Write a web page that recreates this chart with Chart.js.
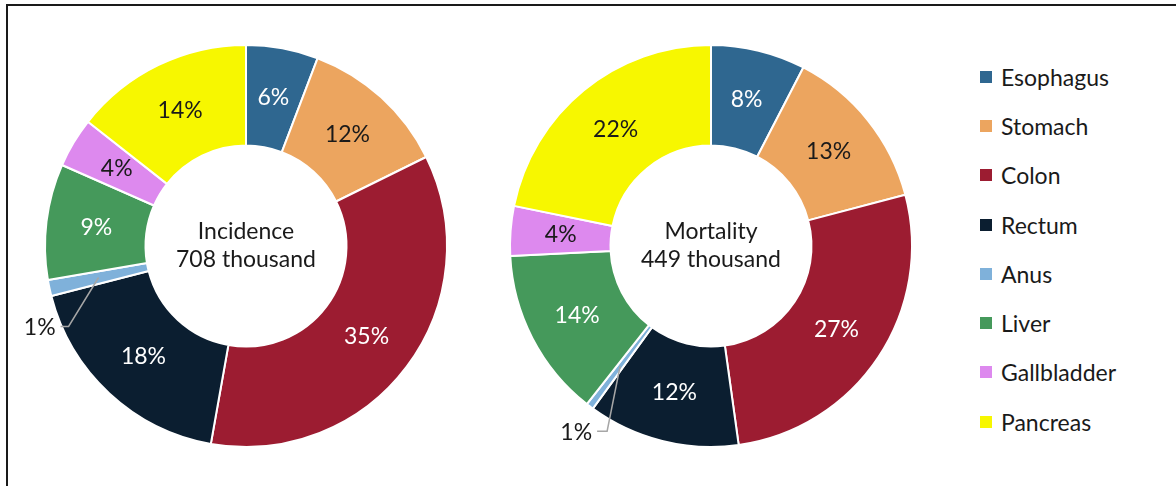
<!DOCTYPE html>
<html>
<head>
<meta charset="utf-8">
<script src="https://cdn.jsdelivr.net/npm/chart.js@4.4.1/dist/chart.umd.min.js"></script>
<style>
    body { margin: 0; width: 1176px; height: 486px; overflow: hidden; background: #fff; font-family: Lato, sans-serif; }
    #frame { position: absolute; left: 6px; top: 4px; width: 1300px; height: 600px; border-top: 2px solid #1a1a1a; border-left: 2px solid #1a1a1a; }
    .pie { position: absolute; top: 6px; width: 480px; height: 480px; }
    #legend { position: absolute; left: 980px; top: 52px; }
    .item { height: 49.3px; display: flex; align-items: center; font-size: 23px; color: #1a1a1a; }
    .swatch { width: 12px; height: 12px; margin-right: 9px; }
</style>
</head>
<body>
<div id="frame"></div>
<div class="pie" style="left:6px"><canvas id="incidenceChart"></canvas></div>
<div class="pie" style="left:471px"><canvas id="mortalityChart"></canvas></div>
<div id="legend"></div>
<script>
// Data (percent of total)
const sites = ['Esophagus', 'Stomach', 'Colon', 'Rectum', 'Anus', 'Liver', 'Gallbladder', 'Pancreas'];
const incidence = [5.8, 11.9, 35.1, 18.2, 1.3, 9.3, 4.0, 14.4];
const mortality = [7.6, 13.3, 26.9, 12.2, 0.6, 13.6, 4.0, 21.8];
const incidenceTitle = ['Incidence', '708 thousand'];
const mortalityTitle = ['Mortality', '449 thousand'];

const colors = ['#2F6790', '#ECA55F', '#9C1C31', '#0B1E30', '#7FB1DA', '#45995B', '#DD89EE', '#F7F700'];
const labelColors = ['#FFFFFF', '#1a1a1a', '#FFFFFF', '#FFFFFF', '#1a1a1a', '#FFFFFF', '#1a1a1a', '#1a1a1a'];

Chart.defaults.font.family = 'Lato';

// Percentage labels, the leader line for the tiny slice, and the centre title
const sliceLabels = {
    id: 'sliceLabels',
    afterDatasetsDraw(chart, args, opts) {
        const ctx = chart.ctx;
        const meta = chart.getDatasetMeta(0);
        const values = chart.data.datasets[0].data;
        const total = values.reduce((a, b) => a + b, 0);
        ctx.save();
        ctx.font = '23px Lato';
        ctx.textBaseline = 'middle';
        meta.data.forEach((arc, i) => {
            const pct = Math.round(values[i] / total * 100) + '%';
            const p = arc.tooltipPosition();
            if (i === opts.outside) {
                const ex = p.x + opts.elbow[0];
                const ey = p.y + opts.elbow[1];
                ctx.strokeStyle = '#A6A6A6';
                ctx.lineWidth = 1.5;
                ctx.beginPath();
                ctx.moveTo(p.x, p.y);
                ctx.lineTo(ex, ey);
                ctx.lineTo(ex - opts.tail, ey);
                ctx.stroke();
                ctx.fillStyle = '#1a1a1a';
                ctx.textAlign = 'right';
                ctx.fillText(pct, ex - opts.tail - 5, ey + 1);
            } else {
                ctx.fillStyle = labelColors[i];
                ctx.textAlign = 'center';
                ctx.fillText(pct, p.x, p.y);
            }
        });
        // title in the hole
        const cx = meta.data[0].x;
        const cy = meta.data[0].y;
        ctx.fillStyle = '#1a1a1a';
        ctx.textAlign = 'center';
        ctx.fillText(opts.title[0], cx, cy - 14);
        ctx.fillText(opts.title[1], cx, cy + 14);
        ctx.restore();
    }
};

function initializeChart(canvasId, values, title, elbow, tail) {
    const ctx = document.getElementById(canvasId).getContext('2d');
    return new Chart(ctx, {
        type: 'doughnut',
        data: {
            labels: sites,
            datasets: [{
                data: values,
                backgroundColor: colors,
                borderColor: '#FFFFFF',
                borderWidth: 2,
                hoverOffset: 0
            }]
        },
        options: {
            responsive: true,
            maintainAspectRatio: false,
            animation: false,
            cutout: '50%',
            layout: { padding: 38 },
            plugins: {
                legend: { display: false },
                tooltip: { enabled: false },
                sliceLabels: { outside: 4, title: title, elbow: elbow, tail: tail }
            }
        },
        plugins: [sliceLabels]
    });
}

window.charts = window.charts || {};
charts.incidence = initializeChart('incidenceChart', incidence, incidenceTitle, [-30, 49], 8);
charts.mortality = initializeChart('mortalityChart', mortality, mortalityTitle, [-13, 65], 10);

// Legend
const legend = document.getElementById('legend');
sites.forEach((name, i) => {
    const row = document.createElement('div');
    row.className = 'item';
    row.innerHTML = '<span class="swatch" style="background:' + colors[i] + '"></span>' + name;
    legend.appendChild(row);
});
</script>
</body>
</html>
